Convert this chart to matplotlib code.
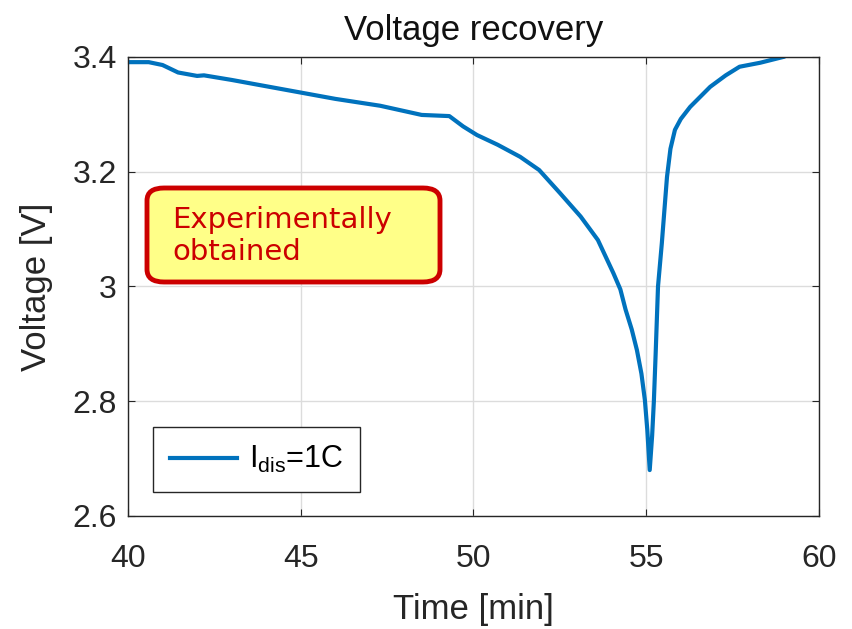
import numpy as np
import matplotlib.pyplot as plt
from matplotlib.patches import FancyBboxPatch

# values
time = [40.0, 40.6, 41.0, 41.45, 42.0, 42.2, 43.0, 44.0, 45.0, 46.0, 47.3, 48.5,
        49.3, 49.7, 50.1, 50.7, 51.35, 51.9, 52.5, 53.1, 53.6, 54.05, 54.25, 54.4,
        54.58, 54.73, 54.86, 54.96, 55.03, 55.1, 55.17, 55.22, 55.27, 55.34, 55.45,
        55.6, 55.7, 55.83, 56.0, 56.27, 56.85, 57.3, 57.7, 58.3, 58.96]
voltage = [3.391, 3.391, 3.386, 3.373, 3.367, 3.368, 3.360, 3.349, 3.338, 3.327,
           3.315, 3.299, 3.297, 3.279, 3.264, 3.247, 3.226, 3.203, 3.163, 3.122,
           3.081, 3.023, 2.995, 2.960, 2.925, 2.889, 2.848, 2.802, 2.750, 2.680,
           2.740, 2.800, 2.880, 3.000, 3.075, 3.191, 3.240, 3.273, 3.292, 3.313,
           3.348, 3.368, 3.383, 3.390, 3.400]
xticks = [40, 45, 50, 55, 60]
yticks = [2.6, 2.8, 3.0, 3.2, 3.4]
yticklabels = ['2.6', '2.8', '3', '3.2', '3.4']

plt.rcParams['font.family'] = ['Liberation Sans', 'DejaVu Sans']

fig = plt.figure(figsize=(8.52, 6.29), dpi=100)
ax = fig.add_axes([0.1502, 0.1797, 0.8111, 0.7297])

ax.plot(time, voltage, color='#0072BD', linewidth=3, label=r'I$_{\mathregular{dis}}$=1C')

ax.set_xlim(40, 60)
ax.set_ylim(2.6, 3.4)
ax.set_xticks(xticks)
ax.set_yticks(yticks)
ax.set_yticklabels(yticklabels)
ax.tick_params(direction='in', length=5, top=True, right=True, labelsize=23,
               color='#262626', labelcolor='#262626')
ax.tick_params(axis='x', pad=20)
ax.tick_params(axis='y', pad=8)
ax.grid(color='#dcdcdc', linewidth=1)
for s in ax.spines.values():
    s.set_color('#262626')
    s.set_linewidth(1)

ax.set_title('Voltage recovery', fontsize=25, color='#111111', pad=12)
ax.set_xlabel('Time [min]', fontsize=25, color='#262626', labelpad=14)
ax.set_ylabel('Voltage [V]', fontsize=25, color='#262626', labelpad=14)

leg = ax.legend(loc='lower left', bbox_to_anchor=(0.036, 0.052), borderaxespad=0,
                fontsize=22, fancybox=False, edgecolor='#262626', framealpha=1,
                handlelength=2.2, handletextpad=0.4, borderpad=0.55)
leg.get_frame().set_linewidth(1)

box = FancyBboxPatch((147 / 852, 1 - 282 / 629), 293 / 852, 94 / 629,
                     boxstyle='round,pad=0,rounding_size=0.02',
                     transform=fig.transFigure, facecolor='#FFFF88',
                     edgecolor='#CC0000', linewidth=3.5, zorder=5)
fig.patches.append(box)
fig.text(172 / 852, 1 - 236 / 629, 'Experimentally\nobtained', fontsize=21,
         color='#CC0000', family='DejaVu Sans', va='center', ha='left',
         linespacing=1.15, zorder=6)

plt.savefig('out.png', dpi=100)
